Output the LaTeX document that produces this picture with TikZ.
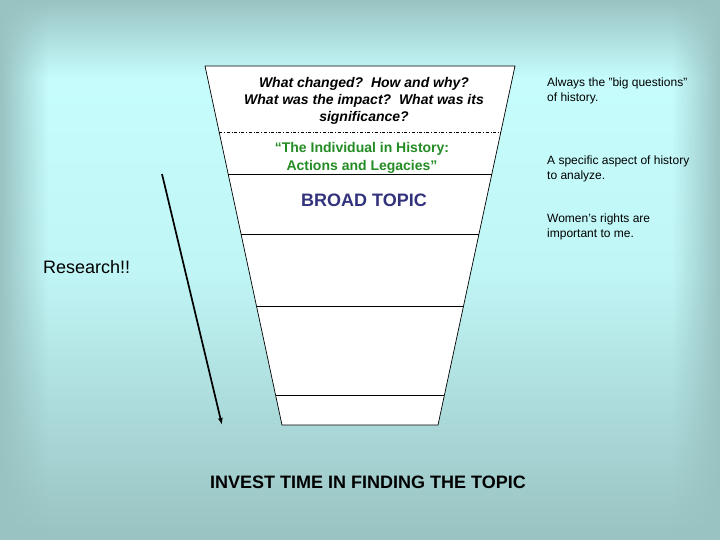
\documentclass[tikz,border=0pt]{standalone}
\usepackage{fontspec}
\setmainfont{Liberation Sans}
\usetikzlibrary{positioning,calc,fadings,arrows.meta}
\definecolor{bgdark}{RGB}{153,194,194}
\definecolor{bglight}{RGB}{200,255,255}
\definecolor{legacygreen}{RGB}{36,140,36}
\definecolor{topicblue}{RGB}{50,50,125}
\tikzfading[name=fadedown,top color=transparent!0,bottom color=transparent!100]
\tikzfading[name=faderight,left color=transparent!0,right color=transparent!100]
\tikzfading[name=fadeleft,left color=transparent!100,right color=transparent!0]
\tikzset{
  band/.style={draw=black,line width=0.9pt},
  question/.style={align=center,inner sep=0pt,
    font=\fontsize{14}{17}\selectfont\bfseries\itshape},
  legacy/.style={align=center,inner sep=0pt,text=legacygreen,
    font=\fontsize{14}{18}\selectfont\bfseries},
  note/.style={align=left,anchor=west,inner sep=0pt,
    font=\fontsize{12}{15}\selectfont}
}

\begin{document}
\begin{tikzpicture}[x=1pt,y=-1pt]
    \useasboundingbox (0,0) rectangle (720,540);
    \shade [top color=bglight,bottom color=bgdark,middle color=bglight!85!bgdark]
      (0,0) rectangle (720,540);
    \fill [bgdark,path fading=fadedown] (0,0) rectangle (720,78);
    \fill [bgdark,path fading=faderight] (0,0) rectangle (48,540);
    \fill [bgdark,path fading=fadeleft] (672,0) rectangle (720,540);

    \coordinate (tl) at (205,66);
    \coordinate (tr) at (515,66);
    \coordinate (bl) at (282,425);
    \coordinate (br) at (438,425);
    \filldraw [fill=white,draw=black,line width=0.7pt] (tl) -- (tr) -- (br) -- (bl) -- cycle;
    \draw [dash dot,line width=0.8pt] ($(tl)!0.184!(bl)$) -- ($(tr)!0.184!(br)$);
    \foreach \t in {0.301,0.468,0.669,0.919}
      \draw [band] ($(tl)!\t!(bl)$) -- ($(tr)!\t!(br)$);

    \node (quest) [question] at (364,101)
      {What changed?\ \ How and why?\\What was the impact?\ \ What was its\\significance?};
    \node (indiv) [legacy] at (362,158)
      {“The Individual in History:\\Actions and Legacies”};
    \node (broad) [inner sep=0pt,text=topicblue,font=\fontsize{18}{20}\selectfont\bfseries]
      at (364,200) {BROAD TOPIC};

    \node (bigq) [note] at (547,90.5) {Always the "big questions"\\of history.};
    \node (aspect) [note] at (547,168.5) {A specific aspect of history\\to analyze.};
    \node (women) [note] at (547,226.5) {Women's rights are\\important to me.};

    \node (research) [inner sep=0pt,anchor=west,font=\fontsize{18}{21}\selectfont]
      at (43,267) {Research!!};
    \node (invest) [inner sep=0pt,font=\fontsize{18}{21}\selectfont\bfseries]
      at (368,482) {INVEST TIME IN FINDING THE TOPIC};

    \coordinate (rtop) at (162,174);
    \coordinate (rbot) at (222,425);
    \draw [-{Latex[length=7pt,width=5pt]},line width=1.7pt] (rtop) -- (rbot);
\end{tikzpicture}
\end{document}
